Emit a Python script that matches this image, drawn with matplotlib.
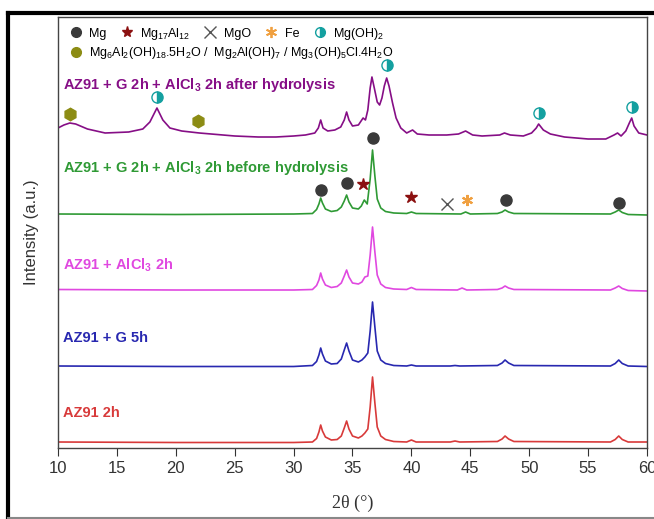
import matplotlib.pyplot as plt
from matplotlib.lines import Line2D

plt.rcParams['font.family'] = ['Liberation Sans', 'DejaVu Sans']
plt.rcParams['mathtext.fontset'] = 'custom'
plt.rcParams['mathtext.rm'] = 'Liberation Sans'
plt.rcParams['mathtext.bf'] = 'Liberation Sans:bold'

# XRD patterns (2theta, intensity above own baseline, a.u.)
tt_red = [10, 20, 30, 31.6, 31.95, 32.15, 32.3, 32.45, 32.7, 33.2, 33.7, 34.05, 34.3, 34.5, 34.7, 35.0, 35.5,
          35.8, 36.05, 36.3, 36.5, 36.7, 36.9, 37.1, 37.4, 37.8, 38.5, 39.6, 40.0, 40.4, 43.3, 43.7, 44.1,
          47.3, 47.7, 47.95, 48.25, 48.7, 56.9, 57.3, 57.6, 57.9, 58.4, 60]
i_red = [1, 0.5, 0.5, 1, 4.5, 11, 18, 12, 6, 3, 3.5, 7, 15, 22, 14, 7, 5,
         7, 10, 14, 36, 66, 40, 16, 7, 3.5, 1.5, 1, 3, 1, 1, 2, 1,
         1.5, 4, 7, 4, 1.5, 1, 3.5, 7, 3.5, 1, 1]

tt_blue = [10, 20, 30, 31.6, 31.95, 32.15, 32.3, 32.45, 32.7, 33.2, 33.7, 34.05, 34.3, 34.5, 34.7, 35.0, 35.5,
           35.8, 36.05, 36.3, 36.5, 36.7, 36.9, 37.1, 37.4, 37.8, 38.5, 39.6, 40.0, 40.4, 43.3, 43.7, 44.1,
           47.3, 47.7, 47.95, 48.25, 48.7, 56.9, 57.3, 57.6, 57.9, 58.4, 60]
i_blue = [1, 0.5, 0.5, 1.5, 5.5, 12, 19, 13, 6, 3, 3.5, 8, 17, 24, 16, 7, 5,
          7, 10, 14, 36, 65, 40, 16, 7, 3.5, 1.5, 1, 2, 1, 1, 1.5, 1,
          1.5, 4, 7, 4, 1.5, 1, 3.5, 7, 3.5, 1, 0.5]

tt_mag = [10, 20, 30, 31.6, 31.95, 32.15, 32.3, 32.45, 32.7, 33.2, 33.7, 34.05, 34.3, 34.5, 34.7, 35.0, 35.5,
          35.8, 36.05, 36.3, 36.5, 36.7, 36.9, 37.1, 37.4, 37.8, 38.5, 39.6, 40.0, 40.4, 43.9, 44.3, 44.7,
          47.3, 47.7, 47.95, 48.25, 48.7, 56.9, 57.3, 57.6, 57.9, 58.4, 60]
i_mag = [1.5, 1, 1, 1.5, 5.5, 11, 18, 12, 6, 3.5, 4.5, 8, 15, 21, 14, 8, 7,
         9, 14, 15, 36, 64, 39, 16, 7, 3.5, 2, 1.5, 3.5, 1.5, 1, 3, 1,
         1.5, 3, 5, 3, 1.5, 1, 3, 5, 2.5, 0.5, 0]

tt_green = [10, 20, 30, 31.6, 31.95, 32.15, 32.3, 32.45, 32.7, 33.2, 33.7, 34.05, 34.3, 34.5, 34.7, 35.0, 35.5,
            35.75, 36.0, 36.25, 36.5, 36.7, 36.9, 37.1, 37.4, 37.8, 38.5, 39.6, 40.0, 40.4, 44.2, 44.6, 45.0,
            47.3, 47.7, 47.95, 48.25, 48.7, 56.9, 57.3, 57.6, 57.9, 58.4, 60]
i_green = [1, 0.5, 1, 1.5, 5.5, 11, 17, 12, 6, 3.5, 4.5, 8, 14, 20, 13, 7, 6,
           9, 15, 11, 36, 65, 39, 16, 7, 3.5, 2, 1.5, 3, 1.5, 1, 3, 1,
           1.5, 3, 5, 3, 1.5, 1, 3, 5, 2.5, 0.5, 0]

tt_purple = [10, 10.5, 11.0, 11.5, 12.5, 14, 16, 17.2, 17.8, 18.4, 18.9, 19.5, 20.5, 22, 23, 25, 27, 28.5,
             30, 31, 31.8, 32.1, 32.3, 32.5, 32.9, 33.5, 34.0, 34.3, 34.5, 34.7, 35.0, 35.5, 35.9, 36.1,
             36.3, 36.5, 36.65, 36.85, 37.1, 37.3, 37.5, 37.7, 37.9, 38.1, 38.4, 38.7, 39.1, 39.6, 40.1,
             40.5, 41.5, 43, 44.0, 44.6, 45.2, 46, 47.5, 47.9, 48.4, 49.5, 50.2, 50.6, 50.8, 51.2, 51.8,
             53, 55, 56.5, 57.2, 57.5, 57.8, 58.2, 58.5, 58.7, 58.9, 59.3, 60]
i_purple = [10, 13, 15, 14, 9, 5, 6, 9, 16, 30, 18, 10, 7, 5, 4, 2, 1, 1,
            2, 3, 5, 10, 18, 10, 7, 8, 11, 18, 26, 18, 12, 13, 20, 18,
            28, 50, 61, 50, 36, 33, 40, 52, 60, 52, 35, 20, 10, 5, 8,
            4, 3, 3, 4, 7, 3, 2, 3, 5, 3, 2, 5, 10, 14, 8, 4,
            1, -1, -1, 3, 5, 2, 7, 15, 20, 12, 5, 3]

names = ['AZ91 2h', 'AZ91 + G 5h', r'AZ91 + AlCl$_\mathbf{3}$ 2h',
         r'AZ91 + G 2h + AlCl$_\mathbf{3}$ 2h before hydrolysis',
         r'AZ91 + G 2h + AlCl$_\mathbf{3}$ 2h after hydrolysis']

# phase markers (2theta, height on the stacked plot)
mg_x = [32.3, 34.5, 36.7, 48.0, 57.6]
mg_y = [258, 265, 310, 248, 245]
mg17_x = [35.9, 40.0]
mg17_y = [264, 251]
mgo_x = [43.0]
mgo_y = [244]
fe_x = [44.7]
fe_y = [248]
oh_x = [18.4, 37.9, 50.8, 58.7]
oh_y = [351, 383, 335, 341]
ldh_x = [11.0, 21.9]
ldh_y = [334, 327]

offsets = [5, 81, 157, 233, 310]
colors = ['#d83a3a', '#2828b0', '#e048e0', '#2f9a35', '#860e86']
label_y = [35, 110, 183, 280, 363]

fig = plt.figure(figsize=(6.54, 5.19), dpi=100)
ax = fig.add_axes([58 / 654, 1 - 448 / 519, 589 / 654, 431 / 519])

series = [(tt_red, i_red), (tt_blue, i_blue), (tt_mag, i_mag), (tt_green, i_green), (tt_purple, i_purple)]
for (x, y), off, c, name, ly in zip(series, offsets, colors, names, label_y):
    ax.plot(x, [v + off for v in y], color=c, lw=1.2)
    ax.text(10.4, ly, name, color=c, fontsize=10.5, fontweight='bold', va='center')

ms = 8
ax.plot(mg_x, mg_y, 'o', color='#3a3a3a', ms=ms, ls='none')
ax.plot(mg17_x, mg17_y, '*', color='#8b1010', ms=ms + 1, ls='none')
ax.plot(mgo_x, mgo_y, 'x', color='#555555', ms=ms, mew=1, ls='none')
ax.plot(fe_x, fe_y, marker=(6, 2, 0), color='#f0a040', ms=ms, mew=1.5, ls='none')
ax.plot(oh_x, oh_y, 'o', fillstyle='right', color='#14a0a0', markerfacecoloralt='white',
        mec='#14a0a0', ms=ms, ls='none')
ax.plot(ldh_x, ldh_y, 'h', color='#8c8c14', ms=ms + 1, ls='none')

h1 = [Line2D([], [], marker='o', color='#3a3a3a', ls='none', ms=7),
      Line2D([], [], marker='*', color='#8b1010', ls='none', ms=8),
      Line2D([], [], marker='x', color='#555555', ls='none', ms=8, mew=1),
      Line2D([], [], marker=(6, 2, 0), color='#f0a040', ls='none', ms=8, mew=1.3),
      Line2D([], [], marker='o', fillstyle='right', color='#14a0a0', markerfacecoloralt='white',
             ls='none', ms=7)]
l1 = ['Mg', r'Mg$_{17}$Al$_{12}$', 'MgO', 'Fe', r'Mg(OH)$_2$']
leg1 = ax.legend(h1, l1, ncol=5, loc='upper left', bbox_to_anchor=(0.0, 1.0), frameon=False,
                 fontsize=9, handletextpad=0.4, columnspacing=0.9, handlelength=1.4, borderaxespad=0.3)
ax.add_artist(leg1)
h2 = [Line2D([], [], marker='o', color='#8c8c14', ls='none', ms=7)]
l2 = [r'Mg$_6$Al$_2$(OH)$_{18}$.5H$_2$O /  Mg$_2$Al(OH)$_7$ / Mg$_3$(OH)$_5$Cl.4H$_2$O']
ax.legend(h2, l2, loc='upper left', bbox_to_anchor=(0.0, 0.955), frameon=False,
          fontsize=9, handletextpad=0.4, handlelength=1.4, borderaxespad=0.3)

ax.set_xlim(10, 60)
ax.set_ylim(0, 431)
ax.set_xticks(range(10, 61, 5))
ax.set_yticks([])
ax.tick_params(axis='x', direction='out', length=6, labelsize=12, colors='#333333', labelcolor='#333333')
for s in ax.spines.values():
    s.set_color('#444444')
    s.set_linewidth(1.0)
ax.set_xlabel('2θ (°)', family='Liberation Serif', fontsize=13, color='#333333', labelpad=13)
ax.set_ylabel('Intensity (a.u.)', fontsize=12, color='#333333', labelpad=14)

# outer frame of the original image
fig.add_artist(Line2D([8 / 654, 8 / 654], [0.2 / 519, 1 - 13 / 519], transform=fig.transFigure,
                      color='black', lw=3))
fig.add_artist(Line2D([8 / 654, 1], [1 - 13 / 519, 1 - 13 / 519], transform=fig.transFigure,
                      color='black', lw=3))
fig.add_artist(Line2D([8 / 654, 1], [1.5 / 519, 1.5 / 519], transform=fig.transFigure,
                      color='#888888', lw=1.5))

fig.savefig('out.png', dpi=100)
